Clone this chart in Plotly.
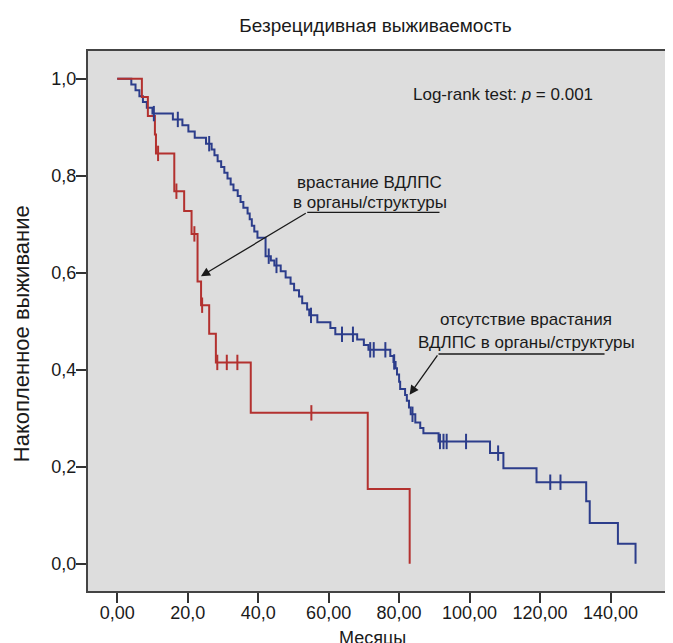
import plotly.graph_objects as go

# ---- data ----
red_t = [7.0, 8.7, 10.7, 11.0, 16.2, 19.0, 21.1, 22.8, 23.8, 26.1, 28.0, 37.9, 71.1, 83.0]
red_s = [0.962, 0.923, 0.885, 0.846, 0.768, 0.727, 0.680, 0.582, 0.533, 0.474, 0.415, 0.311, 0.154, 0.0]
red_cens_t = [11.6, 16.8, 21.9, 24.1, 28.4, 31.1, 34.1, 55.1]

blue_t = [4.0, 5.2, 6.3, 7.3, 8.4, 10.0,
          15.8, 18.5, 20.2, 22.0,
          25.2, 26.8, 27.6, 28.5, 29.5, 30.4, 31.3, 32.2, 33.0, 34.2, 35.0, 35.8, 37.0, 37.6, 38.2, 38.9, 39.8,
          42.1, 43.6, 44.6,
          46.4, 47.8, 49.2, 50.2, 51.6, 52.5, 53.9, 54.5,
          56.8, 60.5, 61.9, 68.1, 70.0, 71.3,
          77.5, 78.4, 79.0, 79.4, 80.0, 80.3, 81.7, 82.2, 82.8, 83.3, 84.6, 86.0, 86.9,
          91.2, 105.8, 109.6, 119.0, 133.1, 134.1, 142.1, 147.1]
blue_s = [0.988, 0.976, 0.964, 0.952, 0.940, 0.928,
          0.916, 0.904, 0.891, 0.878,
          0.866, 0.854, 0.842, 0.830, 0.818, 0.806, 0.794, 0.782, 0.770, 0.758, 0.746, 0.734, 0.722, 0.710, 0.697, 0.685, 0.672,
          0.634, 0.625, 0.615,
          0.603, 0.590, 0.577, 0.564, 0.551, 0.537, 0.524, 0.512,
          0.498, 0.486, 0.473, 0.462, 0.451, 0.441,
          0.428, 0.416, 0.403, 0.390, 0.375, 0.360, 0.348, 0.336, 0.322, 0.308, 0.291, 0.280, 0.269,
          0.252, 0.228, 0.197, 0.168, 0.129, 0.084, 0.041, 0.0]
blue_cens_t = [10.4, 17.2, 26.1, 43.0, 45.2, 55.0, 63.8, 66.9, 71.8, 72.8, 76.1, 78.6, 83.8,
               91.6, 92.6, 93.5, 99.0, 108.1, 122.9, 125.8]

x_ticks = [0, 20, 40, 60, 80, 100, 120, 140]
x_ticktext = ["0,00", "20,0", "40,0", "60,00", "80,00", "100,00", "120,00", "140,00"]
y_ticks = [0.0, 0.2, 0.4, 0.6, 0.8, 1.0]
y_ticktext = ["0,0", "0,2", "0,4", "0,6", "0,8", "1,0"]

RED = "#b3312f"
BLUE = "#2c3d8b"
INK = "#1a1a1a"
FONT = "Liberation Sans, Arial, sans-serif"


def surv_at(times, surv, t):
    s = 1.0
    for ti, si in zip(times, surv):
        if ti <= t:
            s = si
    return s


fig = go.Figure()
for t, s, c in [(blue_t, blue_s, BLUE), (red_t, red_s, RED)]:
    fig.add_trace(go.Scatter(x=[0] + t, y=[1.0] + s, mode="lines", line_shape="hv",
                             line=dict(color=c, width=2), showlegend=False, hoverinfo="skip"))

for t, s, ct, c in [(blue_t, blue_s, blue_cens_t, BLUE), (red_t, red_s, red_cens_t, RED)]:
    fig.add_trace(go.Scatter(x=ct, y=[surv_at(t, s, v) for v in ct], mode="markers",
                             marker=dict(symbol="line-ns", size=11, line=dict(color=c, width=2)),
                             showlegend=False, hoverinfo="skip"))

axis_common = dict(showgrid=False, zeroline=False, ticks="outside", ticklen=10, tickwidth=2,
                   tickcolor="#333333", showline=True, linewidth=2, linecolor="#444444", mirror=True,
                   tickfont=dict(family=FONT, size=18, color=INK))

fig.update_xaxes(range=[-8.29, 158.3], tickvals=x_ticks, ticktext=x_ticktext,
                 ticklabelstandoff=-6, **axis_common)
fig.update_yaxes(range=[-0.0563, 1.0571], tickvals=y_ticks, ticktext=y_ticktext,
                 ticklabelstandoff=-4, **axis_common)

txt = dict(family=FONT, size=17, color=INK)
ann = [
    dict(x=109.5, y=0.9664, text="Log-rank test: <i>p</i> = 0.001"),
    dict(x=71.6, y=0.786, text="врастание ВДЛПС"),
    dict(x=71.6, y=0.745, text="в органы/структуры"),
    dict(x=116.1, y=0.5045, text="отсутствие врастания"),
    dict(x=116.1, y=0.4563, text="ВДЛПС в органы/структуры"),
]
annotations = [dict(xref="x", yref="y", showarrow=False, xanchor="center", yanchor="middle",
                    font=txt, **a) for a in ann]
annotations += [
    dict(x=23.76, y=0.5926, ax=53.93, ay=0.7245, xref="x", yref="y", axref="x", ayref="y",
         text="", showarrow=True, arrowhead=2, arrowsize=1.4, arrowwidth=1.3, arrowcolor=INK),
    dict(x=82.98, y=0.3485, ax=91.18, ay=0.4324, xref="x", yref="y", axref="x", ayref="y",
         text="", showarrow=True, arrowhead=2, arrowsize=1.4, arrowwidth=1.3, arrowcolor=INK),
    dict(x=0.4854, y=-0.087, xref="paper", yref="paper", text="Месяцы", showarrow=False,
         xanchor="center", yanchor="middle", font=dict(family=FONT, size=18, color=INK)),
    dict(x=-0.112, y=0.476, xref="paper", yref="paper", text="Накопленное выживание",
         showarrow=False, textangle=-90, xanchor="center", yanchor="middle",
         font=dict(family=FONT, size=22, color=INK)),
]

shapes = [
    dict(type="line", xref="x", yref="y", x0=53.93, x1=91.46, y0=0.7245, y1=0.7245,
         line=dict(color=INK, width=1.3)),
    dict(type="line", xref="x", yref="y", x0=91.18, x1=138.3, y0=0.4324, y1=0.4324,
         line=dict(color=INK, width=1.3)),
]

fig.update_layout(
    width=673, height=643,
    margin=dict(l=80, r=4, t=43, b=60),
    paper_bgcolor="white", plot_bgcolor="#dddddd",
    title=dict(text="Безрецидивная выживаемость", x=0.546, y=1 - 17 / 643,
               xanchor="center", yanchor="middle", font=dict(family=FONT, size=19, color=INK)),
    annotations=annotations, shapes=shapes,
    showlegend=False,
)

fig.write_html("out.html")
